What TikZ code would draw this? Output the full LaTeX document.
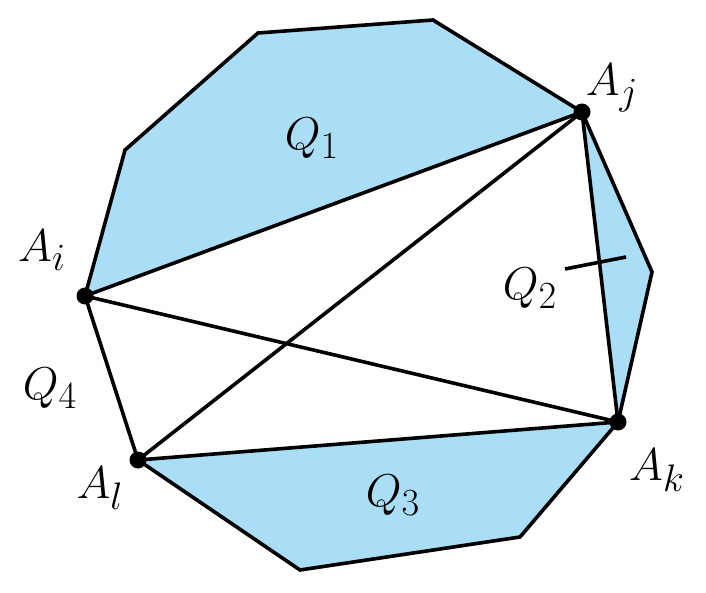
\documentclass[tikz,border=0pt]{standalone}
\definecolor{qblue}{RGB}{170,222,246}
\newcommand{\biglab}[1]{\scalebox{1.85}{$#1$}}
\begin{document}
\begin{tikzpicture}[x=1pt,y=-1pt,
  edge/.style={line width=3.6pt,line join=miter},
  dot/.style={circle,fill=black,inner sep=0pt,minimum size=17pt},
  lab/.style={font=\Huge,inner sep=0pt}]
\useasboundingbox (0,0) rectangle (706,593);
\coordinate (Ai) at (85,296);
\coordinate (Aj) at (582,112);
\coordinate (Ak) at (618,422);
\coordinate (Al) at (138,460);
\coordinate (v1) at (125,150);
\coordinate (v2) at (258,33);
\coordinate (v3) at (433,20);
\coordinate (v4) at (652,272);
\coordinate (v5) at (520,537);
\coordinate (v6) at (300,570);
\coordinate (m1) at (565,269);
\coordinate (m2) at (626,257);
\fill[qblue] (Ai) -- (v1) -- (v2) -- (v3) -- (Aj) -- cycle;
\fill[qblue] (Aj) -- (v4) -- (Ak) -- cycle;
\fill[qblue] (Ak) -- (v5) -- (v6) -- (Al) -- cycle;
\draw[edge] (Ai) -- (v1) -- (v2) -- (v3) -- (Aj) -- (v4) -- (Ak) -- (v5) -- (v6) -- (Al) -- cycle;
\draw[edge] (Ai) -- (Aj) -- (Ak) -- (Al);
\draw[edge] (Ai) -- (Ak);
\draw[edge] (Aj) -- (Al);
\draw[edge] (m1) -- (m2);
\node[dot] (dAi) at (Ai) {};
\node[dot] (dAj) at (Aj) {};
\node[dot] (dAk) at (Ak) {};
\node[dot] (dAl) at (Al) {};
\node[lab] (lAi) at (42,250) {\biglab{A_i}};
\node[lab] (lAj) at (612,88) {\biglab{A_j}};
\node[lab] (lAk) at (657,470) {\biglab{A_k}};
\node[lab] (lAl) at (100,488) {\biglab{A_l}};
\node[lab] (lQ1) at (312,138) {\biglab{Q_1}};
\node[lab] (lQ2) at (530,288) {\biglab{Q_2}};
\node[lab] (lQ3) at (393,495) {\biglab{Q_3}};
\node[lab] (lQ4) at (50,388) {\biglab{Q_4}};
\end{tikzpicture}
\end{document}
